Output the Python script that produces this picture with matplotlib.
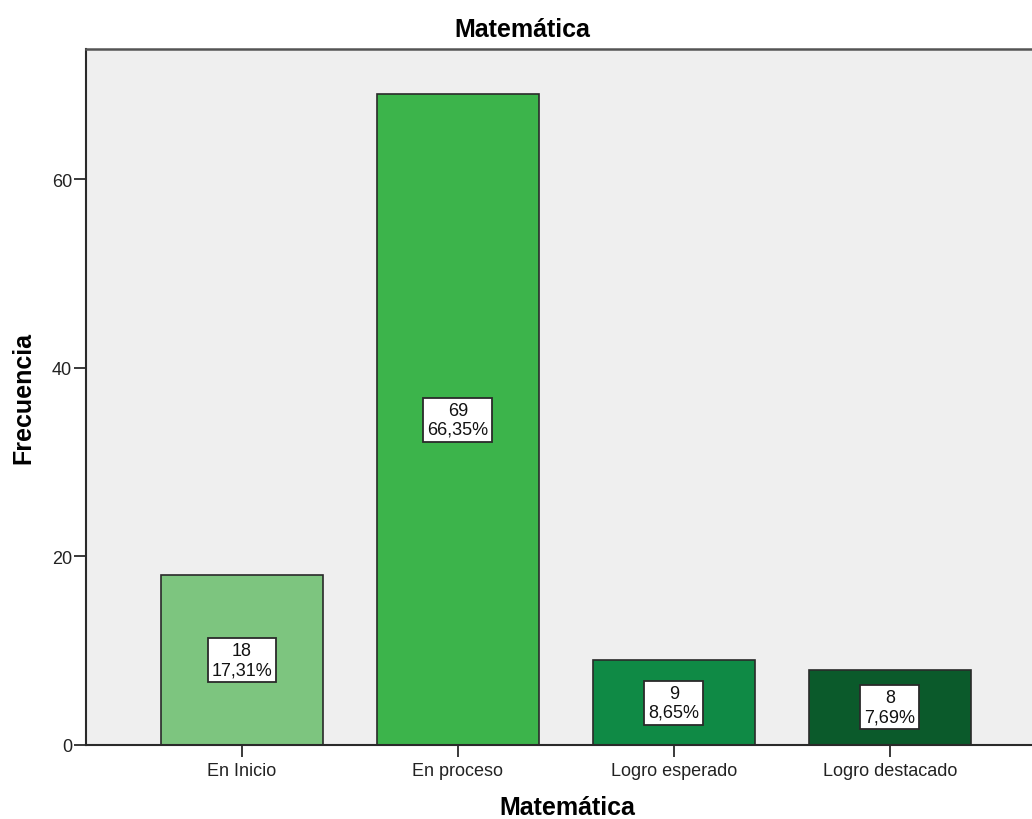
import matplotlib
matplotlib.use('Agg')
import matplotlib.pyplot as plt

plt.rcParams['font.family'] = ['Liberation Sans', 'DejaVu Sans']

categorias = ['En Inicio', 'En proceso', 'Logro esperado', 'Logro destacado']
frecuencias = [18, 69, 9, 8]
porcentajes = ['17,31%', '66,35%', '8,65%', '7,69%']
colores = ['#7dc57f', '#3cb44b', '#0f8a45', '#0b5a2b']

fig = plt.figure(figsize=(10.32, 8.2), dpi=100)
# el área de gráfico se sale un poco por la derecha, como en el original
ax = fig.add_axes([86/1032, 74/820, 962/1032, 696/820])
ax.set_facecolor('#efefef')

x = list(range(len(categorias)))
ax.bar(x, frecuencias, width=0.75, color=colores, edgecolor='#2a2a2a', linewidth=1.2, zorder=2)

for i, (f, p) in enumerate(zip(frecuencias, porcentajes)):
    ax.text(i, f / 2, f"{f}\n{p}", ha='center', va='center', fontsize=13,
            linespacing=1.15, zorder=3, color='#111111',
            bbox=dict(boxstyle='square,pad=0.22', fc='white', ec='#2a2a2a', lw=1.3))

ax.set_xlim(-0.722, -0.722 + 962 / 216)
ax.set_ylim(0, 73.8)
ax.set_yticks([0, 20, 40, 60])
ax.set_xticks(x)
ax.set_xticklabels(categorias)
ax.tick_params(axis='both', labelsize=13, color='#2a2a2a', labelcolor='#222222',
               length=8.5, width=1.3, pad=1.5)
ax.tick_params(axis='x', pad=3.5)
for s in ['left', 'bottom']:
    ax.spines[s].set_color('#2a2a2a')
    ax.spines[s].set_linewidth(1.5)
ax.spines['top'].set_color('#555555')
ax.spines['top'].set_linewidth(1.8)
ax.spines['right'].set_visible(False)

fig.text(522/1032, 1 - 30/820, 'Matemática', fontsize=18, fontweight='bold',
         ha='center', va='center')
ax.set_xlabel('Matemática', fontsize=18, fontweight='bold', va='center')
ax.xaxis.set_label_coords(0.5, -(808 - 746) / 696)
ax.set_ylabel('Frecuencia', fontsize=18, fontweight='bold', va='center', ha='center')
ax.yaxis.set_label_coords((23 - 86) / 962, 0.5)

fig.savefig('out.png', dpi=100)
